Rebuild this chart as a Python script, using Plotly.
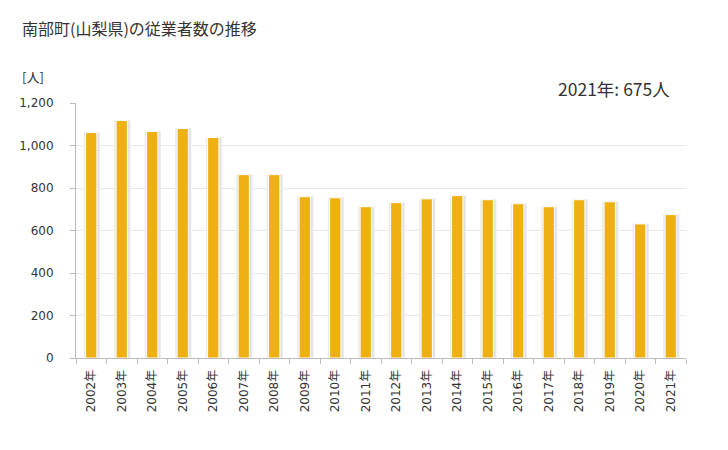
import plotly.graph_objects as go

years = ["2002年", "2003年", "2004年", "2005年", "2006年", "2007年", "2008年", "2009年", "2010年", "2011年",
         "2012年", "2013年", "2014年", "2015年", "2016年", "2017年", "2018年", "2019年", "2020年", "2021年"]
workers = [1061, 1118, 1066, 1080, 1038, 863, 863, 759, 754, 712,
           731, 749, 764, 745, 726, 712, 745, 735, 631, 675]
y_ticks = [0, 200, 400, 600, 800, 1000, 1200]
y_tick_text = ["0", "200", "400", "600", "800", "1,000", "1,200"]

cjk_font = "Noto Sans CJK JP, Noto Sans, sans-serif"
tick_font = "DejaVu Sans, Noto Sans CJK JP, sans-serif"

L, R, T, B = 68, 50, 95, 100
W, H = 728, 450

fig = go.Figure()
# shadow
fig.add_trace(go.Bar(
    x=years, y=workers, width=0.5, offset=-0.23,
    marker=dict(color="#e3e3e3", line=dict(color="#ececec", width=1)),
    hoverinfo="skip", showlegend=False,
))
fig.add_trace(go.Bar(
    x=years, y=workers, width=0.37,
    marker=dict(color="#EEB013", line=dict(color="white", width=1)),
    showlegend=False,
))

fig.update_layout(
    width=W, height=H,
    margin=dict(l=L, r=R, t=T, b=B),
    paper_bgcolor="white", plot_bgcolor="white",
    barmode="overlay",
    font=dict(family=tick_font, size=12, color="#333333"),
    xaxis=dict(
        type="category", tickangle=-90, showgrid=False,
        showline=True, linecolor="#bbbbbb", linewidth=1,
        ticks="outside", ticklen=5, tickcolor="#bbbbbb",
        tickson="boundaries", ticklabelstandoff=6,
        tickfont=dict(size=12, color="#333333", family=tick_font),
    ),
    yaxis=dict(
        range=[0, 1200], tickvals=y_ticks, ticktext=y_tick_text,
        showgrid=True, gridcolor="#e8e8e8", gridwidth=1,
        showline=True, linecolor="#bbbbbb", linewidth=1,
        ticks="outside", ticklen=5, tickcolor="#bbbbbb",
        ticklabelstandoff=14,
        tickfont=dict(size=12, color="#333333", family=tick_font), zeroline=False,
    ),
)

pw = W - L - R
ph = H - T - B
anns = []
specs = [
    ("南部町(山梨県)の従業者数の推移", 12, 20, "left", 16),
    ("[人]", 12, 69, "left", 13),
    ("2021年: 675人", 664, 80, "right", 17.5),
]
for text, px, py, align, size in specs:
    anns.append(dict(
        text=text, xref="paper", yref="paper",
        x=(px - L) / pw, y=1 - (py - T) / ph,
        xanchor=align, yanchor="middle", showarrow=False,
        font=dict(size=size, color="#333333", family=cjk_font),
    ))
fig.layout.annotations = anns

fig.write_html("out.html")
